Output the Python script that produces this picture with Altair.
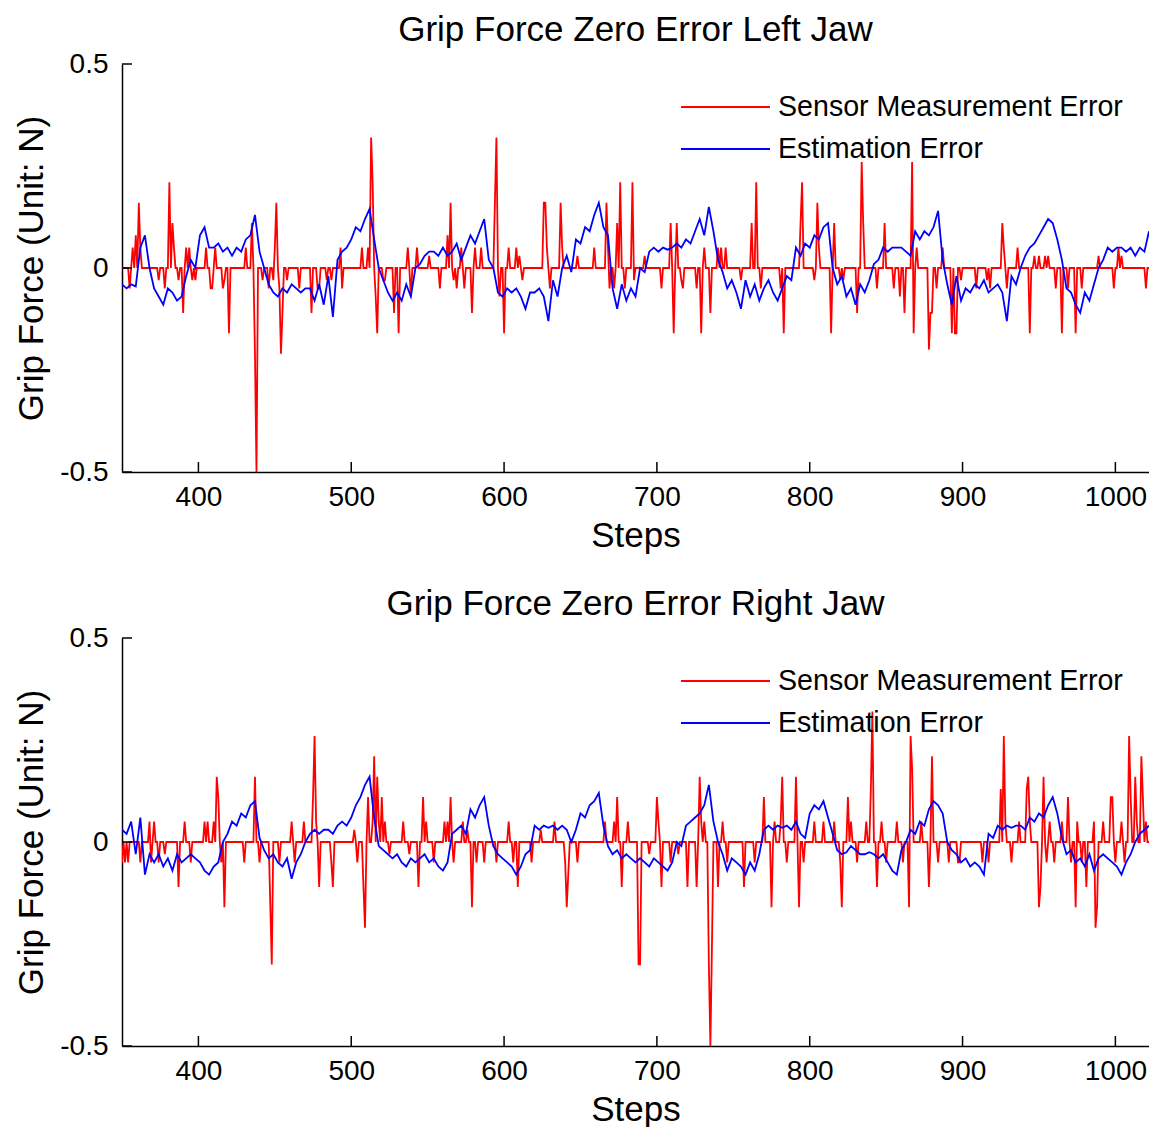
import altair as alt
import pandas as pd

# ---------------- data ----------------
STEP_START = 350
STEP_END = 1022
BLUE_STEPS = list(range(350, 1023, 3))

x_ticks = [400, 500, 600, 700, 800, 900, 1000]
y_ticks = [-0.5, 0, 0.5]

# Estimation error (blue), top panel, every 3 steps from 350
blue_top = [
    -0.04, -0.05, -0.04, -0.045, 0.05, 0.08, 0.0, -0.05, -0.07, -0.09,
    -0.05, -0.06, -0.08, -0.07, -0.02, 0.02, 0.0, 0.08, 0.10, 0.05,
    0.05, 0.06, 0.04, 0.05, 0.03, 0.05, 0.04, 0.07, 0.08, 0.13,
    0.04, 0.0, -0.04, -0.06, -0.07, -0.05, -0.06, -0.04, -0.05, -0.06,
    -0.05, -0.05, -0.08, -0.04, -0.09, -0.02, -0.12, 0.02, 0.04, 0.05,
    0.07, 0.10, 0.09, 0.12, 0.145, 0.07, 0.0, -0.03, -0.06, -0.08,
    -0.06, -0.08, -0.04, -0.07, 0.0, 0.01, 0.03, 0.04, 0.04, 0.03,
    0.05, 0.03, 0.04, 0.06, 0.02, 0.05, 0.08, 0.06, 0.09, 0.12,
    0.02, 0.0, -0.06, -0.07, -0.05, -0.06, -0.05, -0.07, -0.10, -0.06,
    -0.06, -0.05, -0.07, -0.13, -0.03, -0.07, 0.0, 0.03, -0.01, 0.07,
    0.06, 0.10, 0.09, 0.13, 0.16, 0.10, 0.08, -0.05, -0.10, -0.04,
    -0.08, -0.05, -0.07, 0.0, -0.01, 0.04, 0.05, 0.04, 0.05, 0.045,
    0.05, 0.06, 0.05, 0.07, 0.06, 0.09, 0.12, 0.08, 0.15, 0.09,
    0.02, -0.01, -0.05, -0.03, -0.06, -0.10, -0.03, -0.07, -0.04, -0.08,
    -0.05, -0.03, -0.06, -0.08, -0.05, -0.02, -0.03, 0.05, 0.03, 0.06,
    0.05, 0.08, 0.07, 0.10, 0.11, 0.0, -0.04, -0.02, -0.07, -0.05,
    -0.09, -0.04, -0.06, -0.03, 0.01, 0.02, 0.05, 0.04, 0.05, 0.05,
    0.05, 0.04, 0.03, 0.09, 0.07, 0.09, 0.08, 0.10, 0.14, 0.02,
    -0.04, -0.09, -0.02, -0.08, -0.05, -0.06, -0.04, -0.05, -0.03, -0.06,
    -0.05, -0.04, -0.06, -0.13, -0.02, -0.04, 0.0, 0.03, 0.05, 0.06,
    0.08, 0.10, 0.12, 0.11, 0.07, 0.02, -0.05, -0.06, -0.09, -0.11,
    -0.06, -0.08, -0.04, 0.0, 0.02, 0.05, 0.04, 0.05, 0.05, 0.04,
    0.05, 0.03, 0.05, 0.04, 0.09,
]

# Estimation error (blue), bottom panel, every 3 steps from 350
blue_bottom = [
    0.03, 0.02, 0.05, -0.03, 0.06, -0.08, -0.03, -0.05, -0.03, -0.06,
    -0.04, -0.07, -0.03, -0.05, -0.04, -0.03, -0.04, -0.05, -0.07, -0.08,
    -0.06, -0.05, 0.0, 0.02, 0.05, 0.04, 0.07, 0.06, 0.09, 0.10,
    0.01, -0.02, -0.04, -0.03, -0.05, -0.06, -0.04, -0.09, -0.05, -0.03,
    0.0, 0.02, 0.03, 0.02, 0.03, 0.03, 0.02, 0.04, 0.05, 0.04,
    0.06, 0.09, 0.11, 0.14, 0.16, 0.06, -0.01, -0.02, -0.03, -0.04,
    -0.03, -0.05, -0.06, -0.04, -0.05, -0.04, -0.03, -0.05, -0.04, -0.06,
    -0.07, -0.05, 0.02, 0.03, 0.04, 0.02, 0.08, 0.06, 0.09, 0.11,
    0.04, -0.01, -0.03, -0.04, -0.05, -0.06, -0.08, -0.06, -0.03, -0.02,
    0.04, 0.03, 0.04, 0.035, 0.04, 0.03, 0.04, 0.03, 0.0, 0.03,
    0.07, 0.06, 0.09, 0.10, 0.12, 0.04, -0.01, -0.03, -0.02, -0.04,
    -0.03, -0.04, -0.05, -0.04, -0.05, -0.06, -0.04, -0.05, -0.06, -0.07,
    -0.05, 0.0, -0.01, 0.04, 0.05, 0.06, 0.07, 0.09, 0.14, 0.05,
    0.0, -0.03, -0.07, -0.04, -0.05, -0.06, -0.08, -0.05, -0.07, -0.03,
    0.03, 0.04, 0.03, 0.04, 0.035, 0.04, 0.03, 0.05, 0.02, 0.01,
    0.07, 0.09, 0.08, 0.10, 0.06, 0.02, -0.02, -0.03, -0.025, -0.01,
    -0.02, -0.03, -0.03, -0.025, -0.03, -0.04, -0.03, -0.05, -0.07, -0.08,
    -0.02, 0.0, 0.03, 0.02, 0.05, 0.04, 0.08, 0.10, 0.09, 0.07,
    0.0, -0.02, -0.03, -0.05, -0.04, -0.06, -0.05, -0.06, -0.08, 0.02,
    0.01, 0.04, 0.03, 0.04, 0.035, 0.04, 0.04, 0.03, 0.06, 0.05,
    0.07, 0.06, 0.09, 0.11, 0.07, 0.01, -0.03, -0.02, -0.05, -0.04,
    -0.06, -0.03, -0.07, -0.04, -0.03, -0.04, -0.05, -0.06, -0.08, -0.05,
    -0.03, 0.0, 0.02, 0.03, 0.04,
]

# Sensor measurement error (red): non-zero steps and their values (zero elsewhere)
red_top_steps = [
    355, 357, 359, 361, 362, 374, 378, 381, 383, 384, 387, 390, 392, 394, 396, 398,
    405, 408, 409, 411, 416, 417, 420, 431, 435, 437, 438, 442, 446, 449, 450, 451,
    453, 454, 455, 458, 466, 474, 478, 479, 484, 487, 493, 494, 507, 511, 513, 514,
    516, 517, 521, 522, 528, 531, 537, 539, 543, 551, 558, 563, 565, 567, 569, 572,
    574, 579, 581, 585, 594, 595, 597, 600, 603, 608, 610, 612, 626, 627, 628, 630,
    637, 638, 648, 659, 667, 668, 669, 672, 674, 676, 679, 684, 685, 692, 703, 709,
    711, 713, 716, 717, 726, 729, 731, 735, 740, 742, 745, 755, 762, 765, 768, 781,
    783, 794, 795, 803, 805, 806, 814, 816, 820, 822, 831, 834, 835, 844, 849, 855,
    859, 862, 867, 868, 870, 878, 879, 880, 883, 887, 893, 895, 896, 899, 909, 916,
    918, 926, 927, 929, 936, 944, 947, 950, 954, 956, 961, 965, 969, 974, 978, 989,
    999, 1002, 1004, 1020,
]
red_top_values = [
    -0.05, 0.05, 0.08, 0.16, 0.05, -0.03, -0.05, 0.21, 0.11, 0.05, -0.03, -0.11, 0.05, 0.05, -0.03, -0.03,
    0.05, -0.05, -0.05, 0.05, -0.05, -0.03, -0.16, 0.05, 0.11, -0.21, -0.5, -0.03, -0.05, -0.03, 0.05, 0.16,
    -0.05, -0.21, -0.11, -0.03, -0.05, -0.11, -0.05, -0.05, -0.03, -0.03, 0.05, -0.05, 0.05, 0.05, 0.32, 0.21,
    -0.07, -0.16, -0.03, -0.03, -0.11, -0.16, 0.05, -0.07, 0.05, 0.03, -0.05, 0.08, 0.16, -0.03, -0.05, 0.05,
    -0.05, -0.11, 0.05, 0.05, 0.16, 0.32, -0.07, -0.16, 0.05, 0.05, 0.03, -0.03, 0.16, 0.16, 0.05, -0.05,
    0.16, 0.05, 0.03, 0.05, 0.16, 0.05, -0.05, -0.05, 0.11, 0.21, -0.05, 0.21, -0.03, 0.03, -0.05, 0.11,
    -0.16, 0.11, -0.03, -0.05, -0.05, -0.16, 0.05, -0.11, 0.05, 0.05, 0.05, -0.03, 0.11, 0.21, -0.05, -0.05,
    -0.16, 0.11, 0.21, -0.03, 0.16, 0.05, -0.16, 0.11, -0.03, -0.03, -0.11, 0.26, 0.11, -0.05, 0.11, -0.05,
    -0.07, -0.11, 0.26, -0.16, 0.05, -0.2, -0.11, -0.11, -0.05, 0.05, -0.16, -0.16, -0.16, -0.03, -0.05, -0.03,
    -0.05, 0.11, 0.05, -0.05, 0.05, -0.16, 0.03, 0.03, 0.03, 0.03, -0.05, -0.16, -0.05, -0.16, -0.05, 0.03,
    -0.05, 0.05, 0.03, -0.05,
]

red_bottom_steps = [
    350, 352, 354, 362, 368, 369, 371, 374, 378, 387, 391, 395, 404, 406, 410, 412,
    413, 415, 417, 430, 437, 440, 447, 448, 453, 461, 463, 469, 475, 476, 477, 479,
    487, 488, 502, 504, 508, 509, 511, 514, 515, 517, 518, 520, 522, 525, 534, 538,
    544, 547, 549, 554, 561, 563, 565, 567, 573, 576, 579, 582, 587, 595, 603, 606,
    609, 618, 624, 633, 640, 641, 642, 648, 666, 672, 674, 677, 681, 688, 689, 695,
    700, 701, 703, 709, 714, 720, 726, 728, 729, 731, 734, 735, 736, 740, 743, 746,
    757, 764, 770, 775, 777, 781, 782, 785, 791, 793, 796, 803, 809, 816, 820, 821,
    825, 827, 831, 837, 840, 841, 844, 847, 850, 857, 861, 865, 866, 867, 873, 878,
    880, 884, 891, 897, 898, 913, 917, 925, 927, 928, 932, 937, 942, 943, 944, 950,
    951, 953, 955, 957, 960, 965, 969, 971, 974, 975, 978, 981, 986, 987, 988, 992,
    997, 998, 1000, 1004, 1006, 1009, 1010, 1013, 1014, 1017, 1018, 1020,
]
red_bottom_values = [
    -0.05, -0.05, -0.05, -0.05, 0.05, -0.05, 0.05, -0.05, -0.03, -0.11, 0.05, -0.05, 0.05, 0.05, 0.05, 0.16,
    0.11, -0.05, -0.16, -0.05, 0.16, -0.05, -0.15, -0.3, -0.05, 0.05, -0.05, 0.05, 0.11, 0.26, 0.05, -0.11,
    -0.05, -0.11, 0.03, -0.05, -0.11, -0.21, 0.11, 0.05, 0.21, 0.16, 0.05, 0.11, 0.05, -0.03, 0.05, -0.03,
    -0.11, 0.11, 0.05, -0.05, 0.05, 0.05, 0.11, -0.05, 0.05, 0.03, -0.16, -0.05, -0.05, -0.05, 0.05, -0.05,
    -0.11, -0.05, 0.03, 0.05, -0.05, -0.16, -0.08, -0.05, 0.05, 0.05, 0.11, -0.11, 0.05, -0.3, -0.3, -0.03,
    0.11, 0.05, -0.11, -0.05, -0.03, -0.11, -0.11, 0.16, 0.05, 0.05, -0.3, -0.5, -0.26, -0.11, 0.05, -0.05,
    -0.11, -0.05, 0.11, -0.16, 0.05, 0.05, 0.16, -0.05, 0.16, -0.16, -0.05, 0.05, 0.05, 0.05, -0.05, -0.16,
    0.11, 0.05, -0.05, 0.05, 0.13, 0.32, -0.11, 0.05, -0.05, 0.05, -0.05, -0.16, 0.26, 0.18, 0.05, -0.11,
    0.21, -0.05, -0.05, -0.05, -0.05, -0.05, -0.05, 0.13, 0.26, 0.05, -0.05, 0.05, 0.13, 0.16, 0.05, -0.16,
    -0.11, 0.16, -0.05, 0.05, -0.05, 0.05, 0.11, -0.05, -0.16, 0.05, -0.05, -0.11, 0.05, -0.21, -0.16, 0.05,
    0.11, 0.11, -0.05, 0.05, -0.05, 0.26, 0.11, 0.16, 0.05, 0.21, 0.11, 0.05,
]

SENSOR = "Sensor Measurement Error"
ESTIM = "Estimation Error"
legend_labels = [SENSOR, ESTIM]
legend_colors = ["#ff0000", "#0000ff"]

FONT = "Liberation Sans"
W, H = 1027, 408
LW = 1.8


def panel(title, blue_vals, red_steps, red_vals):
    red_map = dict(zip(red_steps, red_vals))
    all_steps = list(range(STEP_START, STEP_END + 1))
    df_red = pd.DataFrame({
        "step": all_steps,
        "value": [red_map.get(s, 0.0) for s in all_steps],
    })
    df_blue = pd.DataFrame({"step": BLUE_STEPS, "value": blue_vals})

    xs = alt.X("step:Q", scale=alt.Scale(domain=[STEP_START, STEP_END], nice=False, zero=False),
               axis=alt.Axis(values=x_ticks, format="d", title="Steps"))
    ys = alt.Y("value:Q", scale=alt.Scale(domain=[-0.5, 0.5], nice=False),
               axis=alt.Axis(values=y_ticks, title="Grip Force (Unit: N)",
                             labelExpr="replace(format(datum.value, '.1~f'), '\u2212', '-')"))

    red = alt.Chart(df_red).mark_line(strokeWidth=LW, color=legend_colors[0], clip=True).encode(x=xs, y=ys)
    blue = alt.Chart(df_blue).mark_line(strokeWidth=LW, color=legend_colors[1], clip=True).encode(x=xs, y=ys)

    xt = alt.Chart(pd.DataFrame({"step": x_ticks})).mark_rule(color="black", strokeWidth=1.5).encode(
        x="step:Q", y=alt.value(H), y2=alt.value(H - 10))
    yt = alt.Chart(pd.DataFrame({"value": y_ticks})).mark_rule(color="black", strokeWidth=1.5).encode(
        y="value:Q", x=alt.value(0), x2=alt.value(10))

    # legend (inside the plot, top right, no frame)
    leg = []
    for i, (lab, col) in enumerate(zip(legend_labels, legend_colors)):
        row_y = 43 + 42 * i
        d = pd.DataFrame({"label": [lab]})
        leg.append(alt.Chart(d).mark_rule(color=col, strokeWidth=LW).encode(
            x=alt.value(559), x2=alt.value(648), y=alt.value(row_y)))
        leg.append(alt.Chart(d).mark_text(align="left", baseline="middle", fontSize=28.6,
                                          font=FONT, color="black").encode(
            x=alt.value(656), y=alt.value(row_y), text="label:N"))

    return alt.layer(red, blue, xt, yt, *leg).properties(
        width=W, height=H,
        title=alt.TitleParams(title, fontSize=35, fontWeight="normal", font=FONT,
                              anchor="middle", offset=2, color="black", frame="group"),
    )


top = panel("Grip Force Zero Error Left Jaw", blue_top, red_top_steps, red_top_values)
bottom = panel("Grip Force Zero Error Right Jaw", blue_bottom, red_bottom_steps, red_bottom_values)

chart = (
    alt.vconcat(top, bottom, spacing=34)
    .properties(padding={"left": 6, "top": 5, "right": 0, "bottom": 0})
    .configure(font=FONT)
    .configure_view(stroke=None)
    .configure_axis(
        grid=False, ticks=False, domainColor="black", domainWidth=1.5,
        labelFontSize=28, labelColor="black", labelFont=FONT,
        titleFontSize=35, titleFontWeight="normal", titleColor="black", titleFont=FONT,
    )
    .configure_axisX(labelPadding=11, titlePadding=7)
    .configure_axisY(labelPadding=14, titlePadding=10)
)

chart.save("out.html", embed_options={"renderer": "svg", "actions": False})
